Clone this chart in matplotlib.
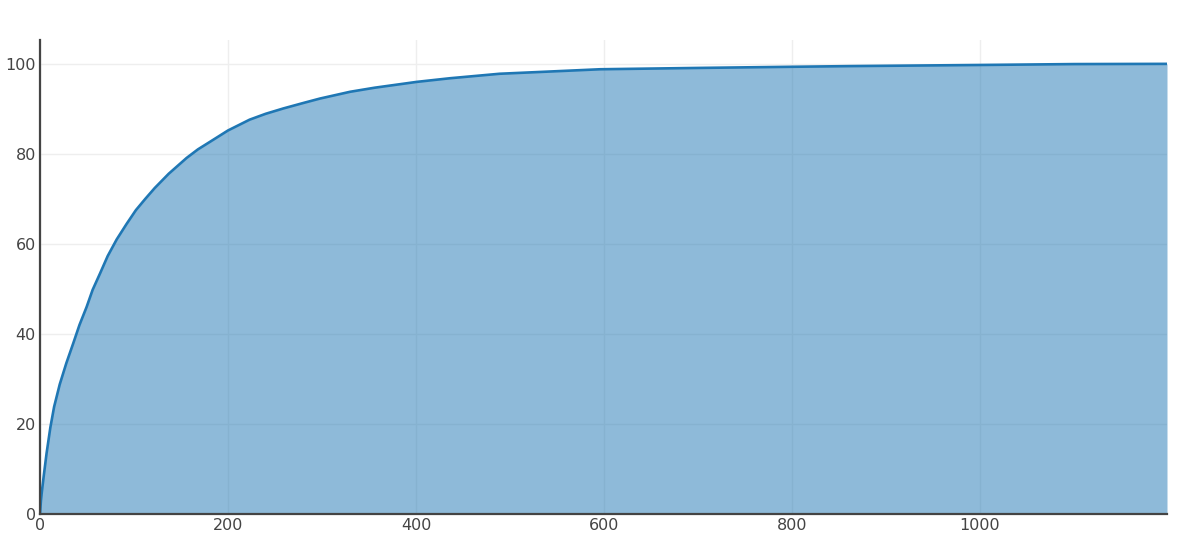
import numpy as np
import matplotlib.pyplot as plt

# cumulative share (%)
x_vals = [0, 1, 2, 4, 7, 11, 15, 21, 28, 35.5, 42, 49.6, 56, 64, 72,
          81.6, 92, 102, 112, 122, 137, 156, 168, 181, 200, 223, 240, 259,
          280, 298, 330, 356, 401, 436, 489, 532, 596, 702, 800, 862,
          1000, 1100, 1199]
y_vals = [0, 3.0, 5.0, 8.5, 13.5, 19.2, 23.8, 28.8, 33.5, 38.0, 42.0,
          46.0, 49.8, 53.5, 57.3, 61.0, 64.4, 67.5, 70.0, 72.4, 75.6, 79.1,
          81.0, 82.7, 85.2, 87.6, 88.9, 90.1, 91.3, 92.3, 93.8, 94.7, 96.0,
          96.8, 97.8, 98.2, 98.8, 99.1, 99.35, 99.5, 99.75, 99.95, 100]

x_ticks = [0, 200, 400, 600, 800, 1000]
y_ticks = [0, 20, 40, 60, 80, 100]

line_col = '#1f77b4'
txt_col = '#444444'

fig = plt.figure(figsize=(11.83, 5.59), dpi=100)
ax = fig.add_axes([40/1183, 1 - 514/559, 1127/1183, 474/559])

ax.fill_between(x_vals, y_vals, 0, color=line_col, alpha=0.5, linewidth=0, zorder=2)
ax.plot(x_vals, y_vals, color=line_col, linewidth=1.9, zorder=3, solid_joinstyle='round')

ax.set_xlim(0, 1199)
ax.set_ylim(0, 105.3)
ax.set_xticks(x_ticks)
ax.set_yticks(y_ticks)

ax.grid(True, color='#eeeeee', linewidth=1, zorder=0)
ax.set_axisbelow(True)

for s in ['top', 'right']:
    ax.spines[s].set_visible(False)
for s in ['left', 'bottom']:
    ax.spines[s].set_color(txt_col)
    ax.spines[s].set_linewidth(1.6)
    ax.spines[s].set_zorder(4)

ax.tick_params(length=0, pad=3, labelsize=11.5, labelcolor=txt_col)
for lab in ax.get_xticklabels() + ax.get_yticklabels():
    lab.set_family(['DejaVu Sans'])

fig.savefig('out.png', dpi=100)
